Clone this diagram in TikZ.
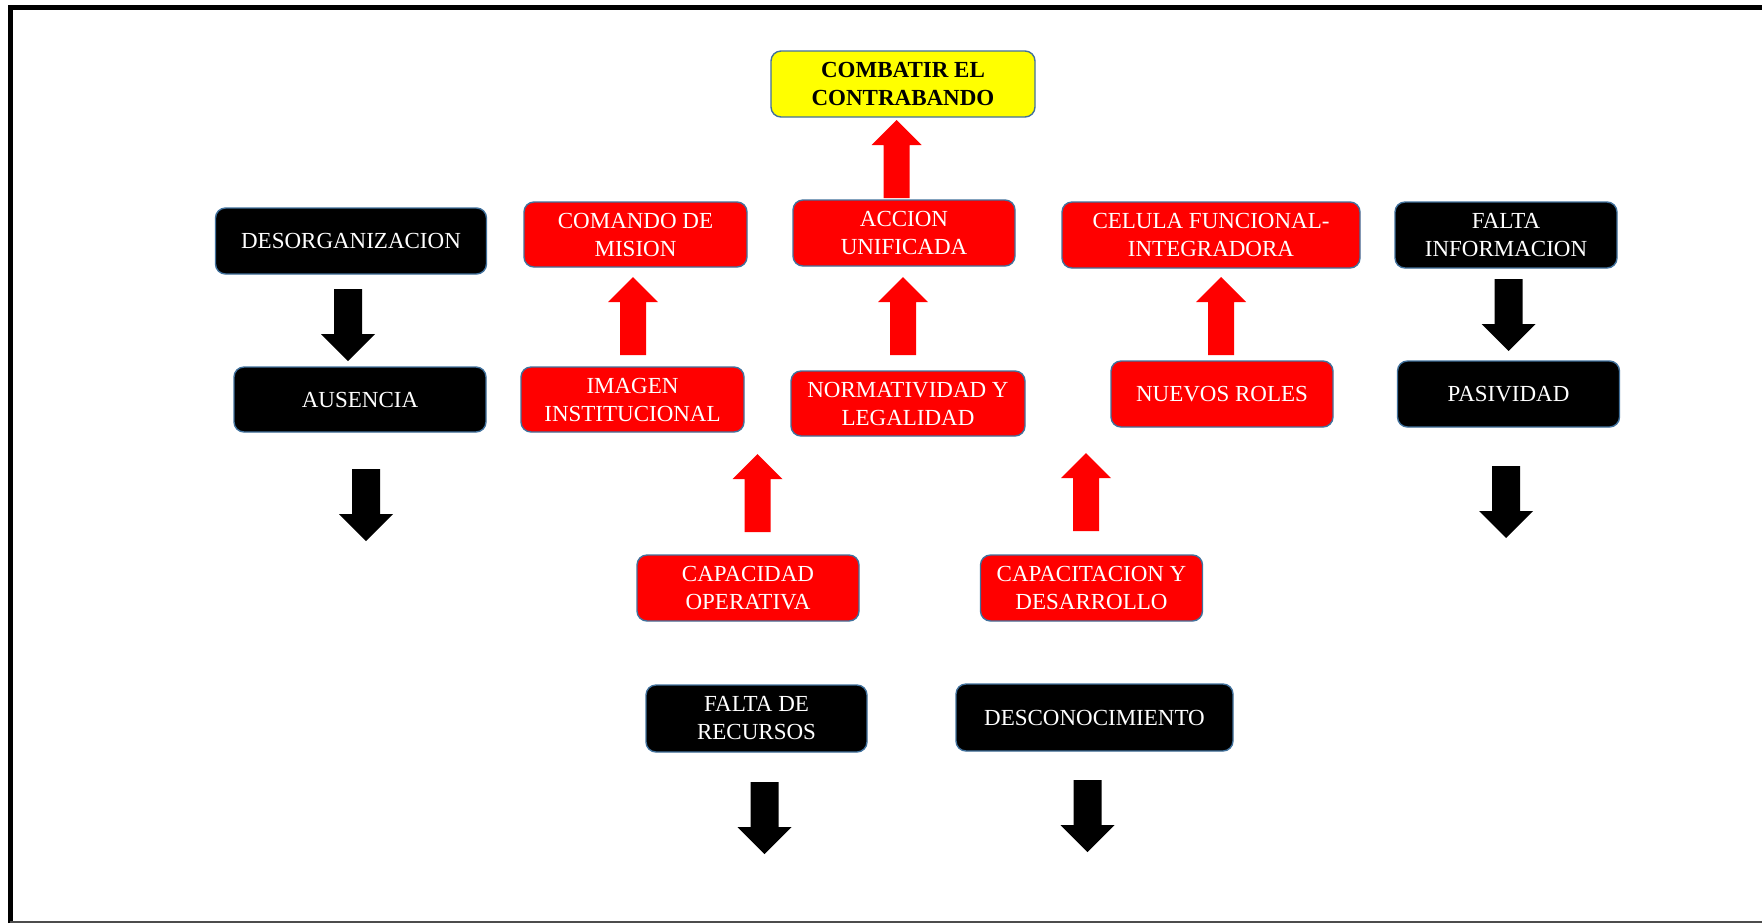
\documentclass[tikz,border=0pt]{standalone}
\usepackage{fontspec}
\setmainfont{Liberation Serif}
\definecolor{boxedge}{HTML}{41719C}
\definecolor{pured}{HTML}{FF0000}
\definecolor{puyellow}{HTML}{FFFF00}
\begin{document}
\begin{tikzpicture}[x=0.5pt,y=-0.5pt,
  box/.style={rectangle, rounded corners=5pt, draw=boxedge, line width=0.7pt,
    align=center, text=white, inner sep=0pt,
    font=\fontsize{11.5}{14}\selectfont},
  sz/.style 2 args={minimum width=#1*0.5pt, minimum height=#2*0.5pt},
  blk/.style={box, fill=black},
  rd/.style={box, fill=pured},
  yl/.style={box, fill=puyellow, text=black, font=\fontsize{11.5}{14}\selectfont\bfseries},
  uparr/.pic={\fill[pured] (-13,0) -- (-13,-53) -- (-25,-53) -- (0,-78) -- (25,-53) -- (13,-53) -- (13,0) -- cycle;},
  dnarr/.pic={\fill[black] (-14,0) -- (-14,45) -- (-27,45) -- (0,72) -- (27,45) -- (14,45) -- (14,0) -- cycle;}
]
\useasboundingbox (0,0) rectangle (1762,923);
\fill[white] (0,0) rectangle (1762,923);
% frame
\draw[line width=2.5pt] (10,923) -- (10,7) -- (1762,7);
\draw[gray!60!black, line width=1pt] (10,922) -- (1762,922);

% boxes
\node[yl, sz={264}{66}] (combatir) at (903,84) {COMBATIR EL\\CONTRABANDO};
\node[blk, sz={271}{66}] (desorg) at (351,241) {DESORGANIZACION};
\node[rd, sz={223}{65}] (comando) at (635.5,234.5) {COMANDO DE\\MISION};
\node[rd, sz={222}{66}] (accion) at (904,233) {ACCION\\UNIFICADA};
\node[rd, sz={298}{66}] (celula) at (1211,235) {CELULA FUNCIONAL-\\INTEGRADORA};
\node[blk, sz={222}{66}] (faltainfo) at (1506,235) {FALTA\\INFORMACION};
\node[blk, sz={252}{65}] (ausencia) at (360,399.5) {AUSENCIA};
\node[rd, sz={223}{65}] (imagen) at (632.5,399.5) {IMAGEN\\INSTITUCIONAL};
\node[rd, sz={234}{65}] (normat) at (908,403.5) {NORMATIVIDAD Y\\LEGALIDAD};
\node[rd, sz={222}{66}] (nuevos) at (1222,394) {NUEVOS ROLES};
\node[blk, sz={222}{66}] (pasiv) at (1508.5,394) {PASIVIDAD};
\node[rd, sz={222}{66}] (capop) at (748,588) {CAPACIDAD\\OPERATIVA};
\node[rd, sz={222}{66}] (capdes) at (1091.5,588) {CAPACITACION Y\\DESARROLLO};
\node[blk, sz={221}{67}] (faltarec) at (756.5,718.5) {FALTA DE\\RECURSOS};
\node[blk, sz={277}{67}] (descon) at (1094.5,717.5) {DESCONOCIMIENTO};

% red block arrows (bottom centre)
\pic (a-accion) at (896.5,198) {uparr};
\pic (a-imagen) at (633,355) {uparr};
\pic (a-normat) at (903,355) {uparr};
\pic (a-nuevos) at (1221,355) {uparr};
\pic (a-capop) at (757.5,532) {uparr};
\pic (a-capdes) at (1086,531) {uparr};

% black block arrows (top centre)
\pic (b-desorg) at (348,289) {dnarr};
\pic (b-ausencia) at (366,469) {dnarr};
\pic (b-faltainfo) at (1508.5,279) {dnarr};
\pic (b-pasiv) at (1506,466) {dnarr};
\pic (b-faltarec) at (764.5,782) {dnarr};
\pic (b-descon) at (1087.5,780) {dnarr};
\end{tikzpicture}
\end{document}
